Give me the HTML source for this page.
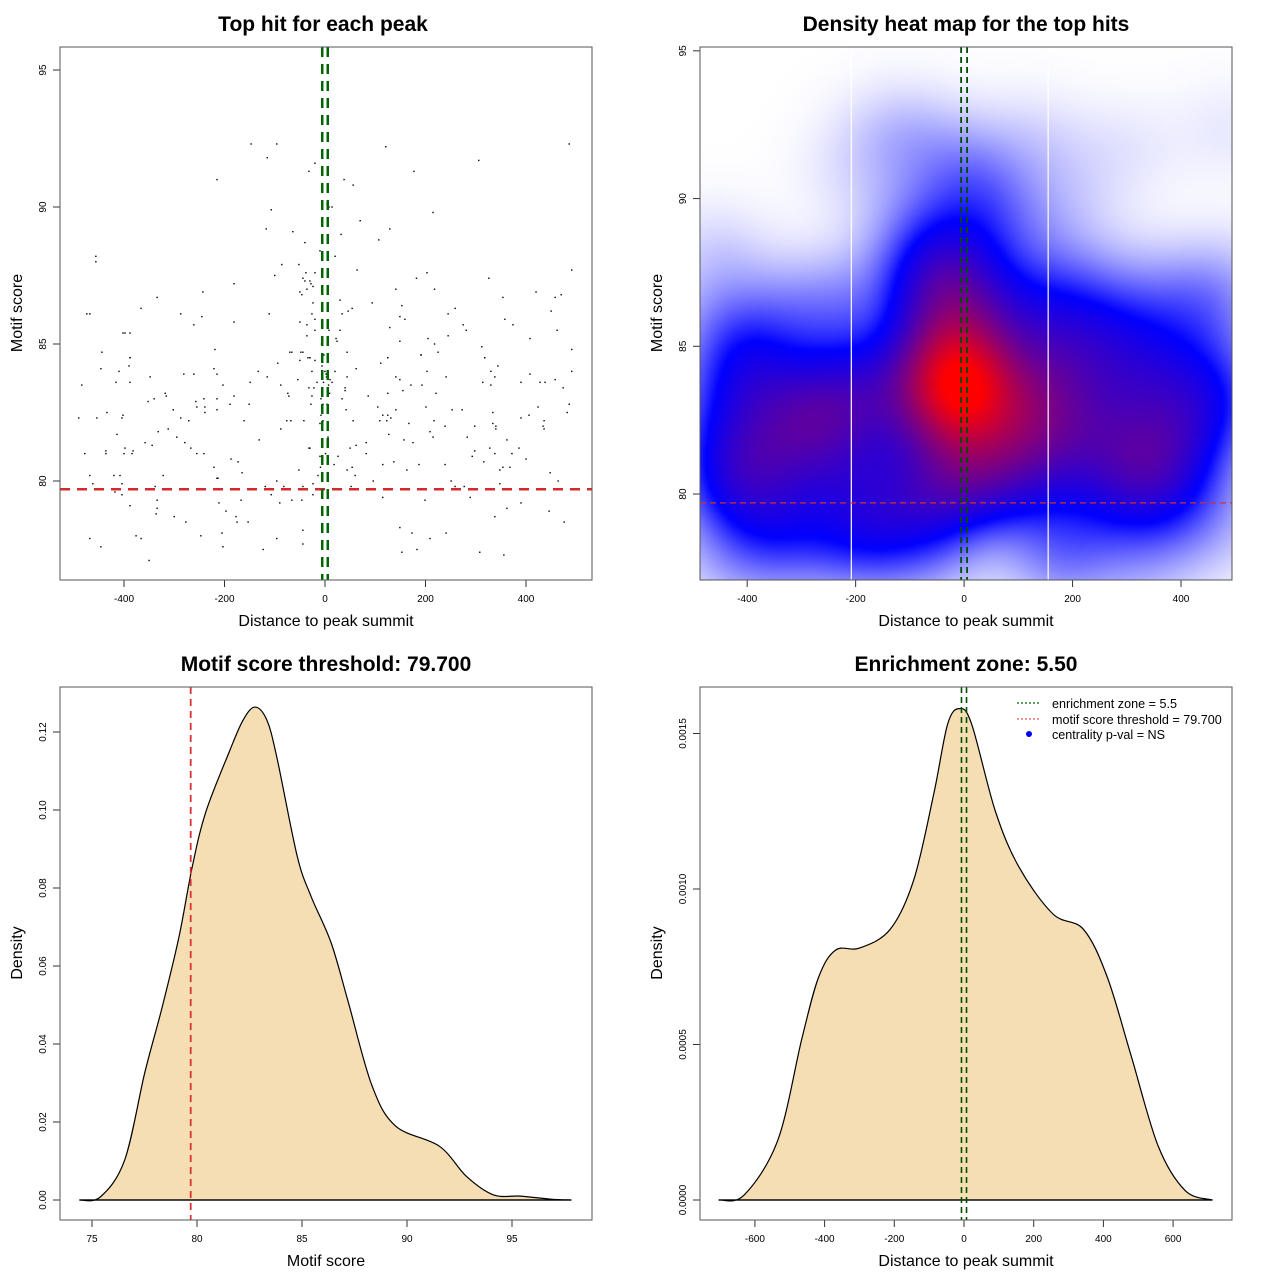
<!DOCTYPE html>
<html><head><meta charset="utf-8">
<style>
html,body{margin:0;padding:0;background:#fff;}
#wrap{position:relative;width:1280px;height:1280px;overflow:hidden;font-family:"Liberation Sans",Arial,sans-serif;}
#heat{position:absolute;left:700px;top:47px;width:532px;height:533px;}
#svg{position:absolute;left:0;top:0;}
text{font-family:"Liberation Sans",Arial,sans-serif;fill:#000;}
.tick{font-size:10px;}
.lab{font-size:16px;}
.ttl{font-size:21px;font-weight:bold;}
</style></head>
<body>
<div id="wrap">
<canvas id="heat" width="532" height="533"></canvas>
<svg id="svg" width="1280" height="1280" xmlns="http://www.w3.org/2000/svg"></svg>
</div>
<script>
// ---------- data ----------
const ptsX = [-147,-96,-115,-20,-32,-215,-107,-117,-64,-40,-10,-456,-456,-86,-52,-38,-20,-100,-44,-40,-30,-28,-24,-36,-50,-46,-181,-243,-334,-366,-474,-468,-287,-245,-111,-261,-181,-24,-26,-20,-50,-36,-20,-36,-402,-398,-388,-444,-219,-388,-70,-66,-48,-44,-34,-30,
121,486,306,177,38,56,4,8,14,215,70,129,32,107,20,64,491,203,182,326,141,218,354,420,458,470,30,94,153,54,46,34,245,259,450,149,159,358,374,275,129,281,462,30,8,22,24,149,205,218,245,408,312,491,44,191,225,125,318,
-388,-446,-410,-390,-484,-416,-388,-348,-281,-261,-221,-215,-203,-133,-115,-94,-50,-30,-20,-149,-88,-54,-26,-16,-32,-22,-352,-340,-318,-316,-257,-241,-215,-181,-189,-151,-74,-72,-26,-28,-4,-255,-239,-239,-215,-490,-454,-434,-404,-402,-302,-287,-271,-161,-76,-68,-42,-8,-10,-414,-332,-312,-295,-279,-267,-358,-344,-131,-88,-478,-436,-436,-400,-398,-384,-382,-255,-241,-187,-173,-32,-30,-10,-468,-420,-408,-322,-462,-404,-221,-215,-213,-165,-52,-96,-82,-44,-24,-14,-338,-418,-404,-119,-107,-24,-388,-334,-334,-336,-211,-197,-177,-175,-153,-167,-90,-66,-46,-300,-277,-468,-446,-376,-366,-350,-247,-205,-203,-123,-96,-44,-44,
111,125,191,318,344,20,62,44,10,14,40,40,141,149,171,193,203,241,330,338,314,330,408,390,428,438,458,474,491,34,86,125,155,221,42,56,105,141,115,125,131,109,123,201,253,273,167,217,239,209,215,283,298,334,334,340,340,390,406,424,436,434,436,482,486,127,157,175,50,62,82,82,26,115,137,163,187,18,44,54,60,239,293,298,316,328,338,362,386,372,400,348,354,368,448,464,96,52,251,259,277,348,358,115,199,289,390,362,338,446,476,149,173,209,241,153,183,308,356,
-6,-3,2,5,-8,4,-2,7,-5,3,0,-4,6,-7,1,9,-9];
const ptsY = [92.3,92.3,91.8,91.6,91.3,91.0,89.9,89.2,89.1,88.7,88.4,88.2,88.0,87.9,87.9,87.6,87.6,87.5,87.4,87.3,87.3,87.2,87.1,87.0,86.9,86.8,87.2,86.9,86.7,86.3,86.1,86.1,86.1,86.0,86.1,85.7,85.8,86.5,86.1,85.9,85.8,85.7,85.5,85.3,85.4,85.4,85.4,84.7,84.8,84.5,84.7,84.7,84.7,84.7,84.5,84.5,
92.2,92.3,91.7,91.3,91.0,90.8,90.1,90.0,90.0,89.8,89.5,89.2,89.0,88.8,88.2,87.7,87.7,87.6,87.4,87.4,87.0,87.0,86.7,86.9,86.7,86.8,86.6,86.5,86.4,86.3,86.2,86.1,86.1,86.3,86.2,86.0,85.9,85.9,85.7,85.7,85.6,85.5,85.5,85.5,85.5,85.2,85.1,85.1,85.2,85.0,85.3,85.2,84.9,84.8,84.7,84.6,84.7,84.5,84.5,
84.5,84.1,84.0,84.2,83.5,83.6,83.6,83.8,83.9,83.9,84.1,83.9,83.5,84.0,83.8,84.3,84.4,84.5,84.4,83.6,83.5,83.7,84.0,83.6,83.4,83.4,82.9,83.0,83.2,83.1,82.9,83.0,83.0,83.1,82.8,82.8,83.2,83.1,83.1,82.8,82.8,82.7,82.7,82.5,82.6,82.3,82.3,82.5,82.3,82.4,82.6,82.3,82.2,82.2,82.2,82.2,82.2,82.4,82.1,81.7,81.8,81.9,81.6,81.4,81.2,81.4,81.3,81.5,81.9,81.0,81.1,81.0,81.0,81.2,81.0,81.1,81.0,81.0,80.8,80.7,81.2,81.2,80.9,80.2,80.2,80.2,80.2,79.9,79.9,80.5,80.1,80.1,80.3,80.4,80.0,79.8,79.8,79.9,80.2,79.8,79.6,79.5,79.8,79.5,79.5,79.1,79.3,79.0,78.8,79.2,78.9,78.7,78.5,78.5,79.3,79.2,79.3,79.3,78.7,78.5,77.9,77.6,78.0,77.9,77.1,78.0,78.1,77.6,77.5,77.9,78.2,77.7,
84.3,84.5,84.6,84.5,84.2,84.0,84.1,83.8,83.7,83.6,83.4,83.3,83.8,83.7,83.5,83.5,84.0,83.8,84.0,83.8,83.6,83.5,83.9,83.6,83.6,83.6,83.7,83.4,84.0,83.0,83.1,83.2,83.3,83.2,82.6,82.2,82.7,82.6,82.4,82.4,82.3,82.2,82.2,82.7,82.6,82.6,82.1,82.2,82.0,81.8,81.6,81.6,82.0,82.5,82.1,82.0,81.9,82.3,82.4,82.7,82.2,82.0,81.9,82.5,82.8,81.7,81.5,81.4,81.2,81.3,81.4,81.0,80.9,80.6,80.7,80.4,80.6,80.6,80.4,80.5,80.2,80.6,80.9,81.1,80.7,81.2,81.0,81.5,81.2,81.0,80.8,80.4,80.5,80.5,80.3,80.0,80.0,79.8,80.0,79.8,79.8,79.9,79.7,79.4,79.3,79.4,79.2,79.0,78.7,78.9,78.5,78.3,78.1,77.9,78.1,77.4,77.5,77.4,77.3,
84.2,83.6,83.9,83.3,83.0,82.8,84.6,83.5,82.5,83.8,84.0,82.2,81.6,85.0,81.0,83.2,80.5];

const scoreX = [74.4,75.4,76.56,77.52,78.33,79.14,79.78,80.42,81.55,82.19,82.76,83.33,83.81,84.77,85.42,86.39,87.19,88.32,89.45,91.54,92.84,94.12,95.41,96.86,97.83];
const scoreDens = [0,0.0008,0.0103,0.0328,0.0492,0.0674,0.0856,0.0995,0.1151,0.123,0.1264,0.123,0.1133,0.0882,0.078,0.0659,0.051,0.0295,0.019,0.0138,0.006,0.0013,0.001,0.0002,0];

const distX = [-704,-631,-534,-465,-417,-368,-300,-212,-144,-86,-47,-13,22,90,158,255,343,411,479,557,635,713];
const distDens = [0,0.000016,0.000193,0.00052,0.000717,0.000804,0.00081,0.00087,0.00103,0.00131,0.00153,0.00158,0.00153,0.00125,0.00107,0.00092,0.00087,0.000717,0.000466,0.000174,0.00003,0];

const xTicksDist = [-400,-200,0,200,400];
const yTicksScore = [80,85,90,95];
const xTicksScore = [75,80,85,90,95];
const yTicksD1 = [0,0.02,0.04,0.06,0.08,0.1,0.12];
const yTicksD1Lab = ["0.00","0.02","0.04","0.06","0.08","0.10","0.12"];
const xTicksD2 = [-600,-400,-200,0,200,400,600];
const yTicksD2 = [0,0.0005,0.001,0.0015];
const yTicksD2Lab = ["0.0000","0.0005","0.0010","0.0015"];
const threshold = 79.7;
const zone = 5.5;

// ---------- helpers ----------
const NS="http://www.w3.org/2000/svg";
const svg=document.getElementById('svg');
function el(tag,attrs,parent){const e=document.createElementNS(NS,tag);for(const k in attrs)e.setAttribute(k,attrs[k]);(parent||svg).appendChild(e);return e;}
function txt(s,x,y,cls,anchor,rot,parent){const t=el('text',{x:x,y:y,class:cls,'text-anchor':anchor||'middle'},parent);if(rot)t.setAttribute('transform','rotate(-90 '+x+' '+y+')');t.textContent=s;return t;}
function lin(d0,d1,r0,r1){return v=>r0+(v-d0)*(r1-r0)/(d1-d0);}
function smoothPath(xs,ys){let d='M'+xs[0]+','+ys[0];for(let i=0;i<xs.length-1;i++){const x0=xs[Math.max(i-1,0)],y0=ys[Math.max(i-1,0)],x1=xs[i],y1=ys[i],x2=xs[i+1],y2=ys[i+1],x3=xs[Math.min(i+2,xs.length-1)],y3=ys[Math.min(i+2,xs.length-1)];d+=' C'+(x1+(x2-x0)/6)+','+(y1+(y2-y0)/6)+' '+(x2-(x3-x1)/6)+','+(y2-(y3-y1)/6)+' '+x2+','+y2;}return d;}

function frame(g,L,T,R,B,name){const r=el('rect',{x:L,y:T,width:R-L,height:B-T,fill:'none',stroke:'#555','stroke-width':1},g);}
function xAxis(g,ticks,labels,sx,B){const a=el('g',{},g);
  el('line',{x1:sx(ticks[0]),x2:sx(ticks[ticks.length-1]),y1:B,y2:B,stroke:'#333'},a);
  ticks.forEach((t,i)=>{el('line',{x1:sx(t),x2:sx(t),y1:B,y2:B+7,stroke:'#333'},a);txt(labels[i],sx(t),B+22,'tick','middle',false,a);});}
function yAxis(g,ticks,labels,sy,L){const a=el('g',{},g);
  el('line',{x1:L,x2:L,y1:sy(ticks[0]),y2:sy(ticks[ticks.length-1]),stroke:'#333'},a);
  ticks.forEach((t,i)=>{el('line',{x1:L,x2:L-7,y1:sy(t),y2:sy(t),stroke:'#333'},a);txt(labels[i],L-14,sy(t),'tick','middle',true,a);});}

// ---------- Panel 1: scatter ----------
(function(){
  const g=el('g',{});
  const sx=lin(0,400,325,526), sy=lin(80,95,481,70);
  txt('Top hit for each peak',323,31,'ttl','middle',false,g);
  xAxis(g,xTicksDist,xTicksDist.map(String),sx,580);
  yAxis(g,yTicksScore,yTicksScore.map(String),sy,60);
  txt('Distance to peak summit',326,626,'lab','middle',false,g);
  txt('Motif score',22,313,'lab','middle',true,g);
  const pg=el('g',{},g);
  for(let i=0;i<ptsX.length;i++){const p=el('rect',{x:sx(ptsX[i])-0.7,y:sy(ptsY[i])-0.7,width:1.4,height:1.4,fill:'#000'},pg);}
  const h=el('line',{x1:60,x2:592,y1:sy(threshold),y2:sy(threshold),stroke:'#d42a2a','stroke-width':2.5,'stroke-dasharray':'10,7'},g);
  [-zone,zone].forEach(z=>{const l=el('line',{x1:sx(z),x2:sx(z),y1:47,y2:580,stroke:'#006400','stroke-width':2.5,'stroke-dasharray':'10,7'},g);});
  frame(g,60,47,592,580,'scatter-frame');
})();

// ---------- Panel 2: heatmap ----------
(function(){
  const L=700,T=47,R=1232,B=580;
  const x0=-487,x1=494,y0=77.09,y1=95.13;
  const W=133,H=133;const hx=70,hy=1.2;
  const grid=new Float32Array(W*H);let mx=0;
  for(let j=0;j<H;j++){const yv=y1-(j+0.5)/H*(y1-y0);for(let i=0;i<W;i++){const xv=x0+(i+0.5)/W*(x1-x0);let s=0;
    for(let k=0;k<ptsX.length;k++){const dx=(ptsX[k]-xv)/hx,dy=(ptsY[k]-yv)/hy;const q=dx*dx+dy*dy;if(q<25)s+=Math.exp(-0.5*q);}
    grid[j*W+i]=s;if(s>mx)mx=s;}}
  const sm=document.createElement('canvas');sm.width=W;sm.height=H;const sc=sm.getContext('2d');const img=sc.createImageData(W,H);
  for(let p=0;p<W*H;p++){let t=Math.pow(grid[p]/mx,1.0);let r,gg,b;const bs=0.28;
    if(t<bs){const s=t/bs;r=255*(1-s);gg=255*(1-s);b=255;}else{const s=Math.min(1,(t-bs)/(0.95-bs));r=255*s;gg=0;b=255*(1-s);}
    img.data[p*4]=r;img.data[p*4+1]=gg;img.data[p*4+2]=b;img.data[p*4+3]=255;}
  sc.putImageData(img,0,0);
  const c=document.getElementById('heat').getContext('2d');c.imageSmoothingEnabled=true;c.imageSmoothingQuality='high';c.drawImage(sm,0,0,532,533);

  const g=el('g',{});
  const sx=lin(x0,x1,L,R), sy=lin(y0,y1,B,T);
  txt('Density heat map for the top hits',966,31,'ttl','middle',false,g);
  [-208,155].forEach(v=>{const l=el('line',{x1:sx(v),x2:sx(v),y1:T,y2:B,stroke:'#fff','stroke-width':1.2},g);});
  xAxis(g,xTicksDist,xTicksDist.map(String),sx,B);
  yAxis(g,yTicksScore,yTicksScore.map(String),sy,L);
  txt('Distance to peak summit',966,626,'lab','middle',false,g);
  txt('Motif score',662,313,'lab','middle',true,g);
  const h=el('line',{x1:L,x2:R,y1:sy(threshold),y2:sy(threshold),stroke:'#cc3333','stroke-width':1.2,'stroke-dasharray':'6,4'},g);
  [-zone,zone].forEach(z=>{const l=el('line',{x1:sx(z),x2:sx(z),y1:T,y2:B,stroke:'#004d00','stroke-width':1.8,'stroke-dasharray':'6,4'},g);});
  frame(g,L,T,R,B,'heatmap-frame');
})();

// ---------- Panel 3: score density ----------
(function(){
  const L=60,T=687,R=592,B=1220;
  const g=el('g',{});
  const sx=lin(80,85,197,302), sy=lin(0,0.12,1200,732);
  txt('Motif score threshold: 79.700',326,671,'ttl','middle',false,g);
  const xs=scoreX.map(sx), ys=scoreDens.map(sy);
  const p=el('path',{d:smoothPath(xs,ys)+' Z',fill:'#f5deb3',stroke:'#000','stroke-width':1.2},g);
  el('line',{x1:xs[0],x2:xs[xs.length-1],y1:sy(0),y2:sy(0),stroke:'#000','stroke-width':1.2},g);
  const h=el('line',{x1:sx(threshold),x2:sx(threshold),y1:T,y2:B,stroke:'#dd3333','stroke-width':1.8,'stroke-dasharray':'7,5'},g);
  xAxis(g,xTicksScore,xTicksScore.map(String),sx,B);
  yAxis(g,yTicksD1,yTicksD1Lab,sy,L);
  txt('Motif score',326,1266,'lab','middle',false,g);
  txt('Density',22,953,'lab','middle',true,g);
  frame(g,L,T,R,B,'score-density-frame');
})();

// ---------- Panel 4: distance density ----------
(function(){
  const L=700,T=687,R=1232,B=1220;
  const g=el('g',{});
  const sx=lin(0,200,964,1033.7), sy=lin(0,0.0005,1200,1044.5);
  txt('Enrichment zone: 5.50',966,671,'ttl','middle',false,g);
  const xs=distX.map(sx), ys=distDens.map(sy);
  const p=el('path',{d:smoothPath(xs,ys)+' Z',fill:'#f5deb3',stroke:'#000','stroke-width':1.2},g);
  el('line',{x1:xs[0],x2:xs[xs.length-1],y1:sy(0),y2:sy(0),stroke:'#000','stroke-width':1.2},g);
  [-zone,zone].forEach(z=>{const l=el('line',{x1:sx(z)+(z<0?-0.6:0.6),x2:sx(z)+(z<0?-0.6:0.6),y1:T,y2:B,stroke:'#005000','stroke-width':1.6,'stroke-dasharray':'6,4'},g);});
  xAxis(g,xTicksD2,xTicksD2.map(String),sx,B);
  yAxis(g,yTicksD2,yTicksD2Lab,sy,L);
  txt('Distance to peak summit',966,1266,'lab','middle',false,g);
  txt('Density',662,953,'lab','middle',true,g);
  const lg=el('g',{},g);
  const e1=el('line',{x1:1017,x2:1041,y1:703,y2:703,stroke:'#006400','stroke-width':1.2,'stroke-dasharray':'2,2'},lg);
  const e2=el('line',{x1:1017,x2:1041,y1:719,y2:719,stroke:'#ee5555','stroke-width':1.2,'stroke-dasharray':'2,2'},lg);
  const e3=el('circle',{cx:1029,cy:734,r:3,fill:'#0000ff'},lg);
  [['enrichment zone = 5.5',708],['motif score threshold = 79.700',724],['centrality p-val = NS',739]].forEach(a=>{const t=txt(a[0],1052,a[1],'','start',false,lg);t.setAttribute('font-size','12.6');});
  frame(g,L,T,R,B,'distance-density-frame');
})();
</script>
</body></html>
